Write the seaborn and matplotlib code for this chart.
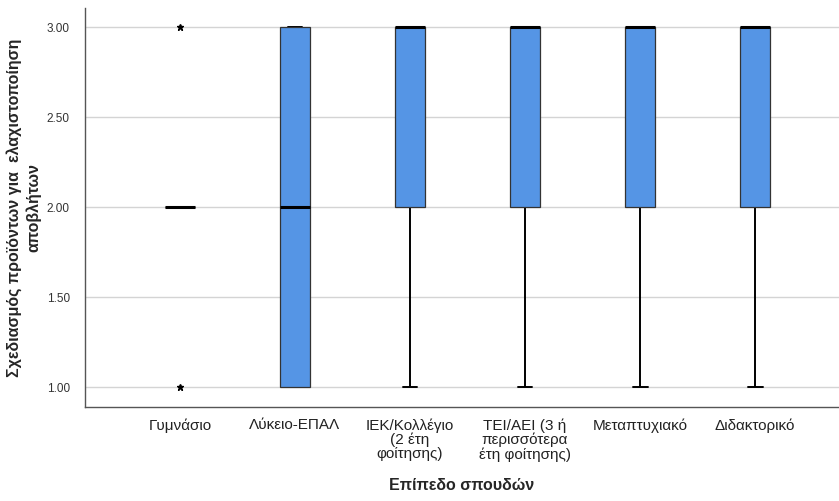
import pandas as pd
import matplotlib.pyplot as plt
import seaborn as sns

# categories (x axis) and the answers per category (1-3 scale)
levels = ["Γυμνάσιο", "Λύκειο-ΕΠΑΛ", "ΙΕΚ/Κολλέγιο\n(2 έτη\nφοίτησης)",
          "ΤΕΙ/ΑΕΙ (3 ή\nπερισσότερα\nέτη φοίτησης)", "Μεταπτυχιακό", "Διδακτορικό"]
gymnasio = [1, 2, 2, 2, 2, 2, 2, 3]
lykeio = [1, 1, 2, 3, 3]
iek = [1, 2, 2, 3, 3, 3, 3, 3]
tei = [1, 2, 2, 3, 3, 3, 3, 3]
metaptyxiako = [1, 2, 2, 3, 3, 3, 3, 3]
didaktoriko = [1, 2, 2, 3, 3, 3, 3, 3]
yticks = [1.0, 1.5, 2.0, 2.5, 3.0]

groups = [gymnasio, lykeio, iek, tei, metaptyxiako, didaktoriko]
rows = []
for lvl, vals in zip(levels, groups):
    for v in vals:
        rows.append({"level": lvl, "value": v})
df = pd.DataFrame(rows)

sns.set_style("white")
plt.rcParams['font.family'] = ['Liberation Sans', 'DejaVu Sans']

fig = plt.figure(figsize=(8.39, 5.01), dpi=100)
ax = fig.add_axes([0.1013, 0.1876, 0.8987, 0.7964])

sns.boxplot(data=df, x="level", y="value", order=levels, ax=ax,
            color="#5595e5", saturation=1, width=0.26, whis=1.5,
            linecolor="black", linewidth=0.9,
            boxprops={"edgecolor": "#333333", "zorder": 3},
            medianprops={"color": "black", "linewidth": 2.2, "zorder": 4},
            whiskerprops={"color": "black", "linewidth": 1.4},
            capprops={"color": "black", "linewidth": 1.4},
            flierprops={"marker": "*", "markerfacecolor": "black",
                        "markeredgecolor": "black", "markersize": 4.5})

ax.set_ylim(0.889, 3.106)
ax.set_xlim(-0.826, 5.73)
ax.set_yticks(yticks)
ax.set_yticklabels([f"{t:.2f}" for t in yticks], fontsize=8.5, color="#333333")
ax.tick_params(axis="both", length=0)
ax.tick_params(axis="x", labelsize=11, pad=8, colors="#222222")
ax.tick_params(axis="y", pad=11)
for lab in ax.get_xticklabels():
    lab.set_linespacing(1.0)
ax.yaxis.grid(True, color="#d4d4d4", linewidth=1)
ax.set_axisbelow(True)

for s in ["top", "right"]:
    ax.spines[s].set_visible(False)
for s in ["left", "bottom"]:
    ax.spines[s].set_color("#555555")
    ax.spines[s].set_linewidth(1)

ax.set_xlabel("Επίπεδο σπουδών", fontsize=11.5, fontweight="bold", labelpad=12)
ax.set_ylabel("Σχεδιασμός προϊόντων για  ελαχιστοποίηση\nαποβλήτων",
              fontsize=11.5, fontweight="bold", labelpad=4, linespacing=1.25)

plt.savefig("out.png", dpi=100)
